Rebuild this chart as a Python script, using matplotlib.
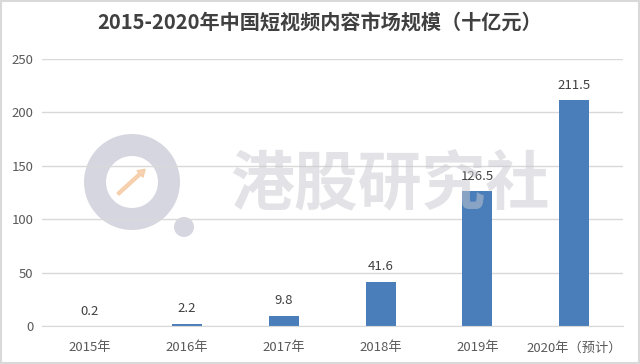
import matplotlib
matplotlib.use("Agg")
import matplotlib.pyplot as plt
from matplotlib import patches

plt.rcParams['font.family'] = ['Noto Sans CJK SC', 'DejaVu Sans']

# data (十亿元)
years = ['2015年', '2016年', '2017年', '2018年', '2019年', '2020年（预计）']
values = [0.2, 2.2, 9.8, 41.6, 126.5, 211.5]
y_ticks = [0, 50, 100, 150, 200, 250]

title = '2015-2020年中国短视频内容市场规模（十亿元）'
watermark = '港股研究社'

fig = plt.figure(figsize=(6.4, 3.64), dpi=100)
ax = fig.add_axes([0.065, 0.104, 0.908, 0.734])
ax.patch.set_alpha(0)

x = range(len(years))
ax.bar(x, values, width=0.31, color='#4a7ebb', zorder=3)

for xi, v in zip(x, values):
    ax.annotate(f'{v}', (xi, v), textcoords='offset points', xytext=(0, 6),
                ha='center', va='bottom', fontsize=9.5, color='#404040')

ax.set_xlim(-0.5, len(years) - 0.5)
ax.set_ylim(0, 250)
ax.set_yticks(y_ticks)
ax.set_xticks(list(x))
ax.set_xticklabels(years)
ax.tick_params(axis='both', length=0, labelsize=9.5, colors='#595959')
ax.tick_params(axis='x', pad=11)
ax.tick_params(axis='y', pad=6)
ax.grid(axis='y', color='#d9d9d9', linewidth=1, zorder=0)
for s in ['top', 'right', 'left']:
    ax.spines[s].set_visible(False)
ax.spines['bottom'].set_color('#d9d9d9')
ax.spines['bottom'].set_zorder(4)

fig.text(0.5, 0.94, title, ha='center', va='center', fontsize=14.5,
         fontweight='bold', color='#404040')

# watermark (logo ring + dot + small arrow + text), drawn in pixel coords
ring = patches.Wedge((132, 182), 48, 0, 360, width=22, facecolor='#c9c9d6',
                     edgecolor='none', alpha=0.75, transform=None, zorder=-1)
dot = patches.Circle((184, 137), 10, facecolor='#c9c9d6', edgecolor='none',
                     alpha=0.75, transform=None, zorder=-1)
fig.add_artist(ring)
fig.add_artist(dot)
fig.add_artist(patches.FancyArrow(118, 170, 22, 20, width=3, head_width=9,
                                  head_length=7, color='#f5c9a0', alpha=0.8,
                                  transform=None, zorder=-1))
fig.text(0.61, 0.49, watermark, ha='center', va='center', fontsize=46,
         fontweight='bold', color='#c8c8d0', alpha=0.5, zorder=2)

# light frame round the picture
fig.add_artist(patches.Rectangle((0.002, 0.003), 0.996, 0.994, transform=fig.transFigure,
                                 fill=False, edgecolor='#d9d9d9', linewidth=1.5))

fig.savefig('out.png', dpi=100)
